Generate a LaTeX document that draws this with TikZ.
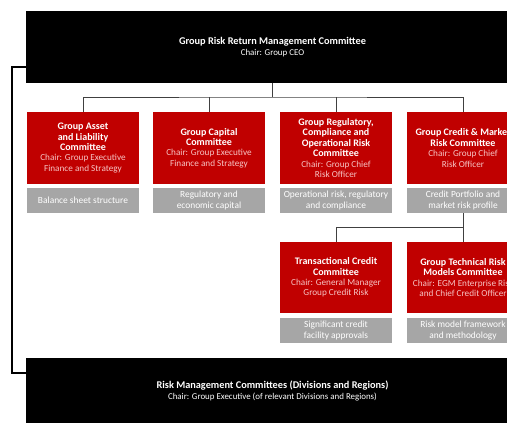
\documentclass[tikz,border=0pt]{standalone}
\usepackage{fontspec}
\setmainfont{Carlito}
\usepackage{tikz}
\definecolor{riskred}{RGB}{192, 0, 0}
\definecolor{riskgrey}{RGB}{166, 166, 166}
\definecolor{chairpink}{RGB}{246, 196, 196}
\definecolor{treeline}{RGB}{64, 64, 64}
\newcommand{\chairline}[1]{{\mdseries\fontsize{9.2}{10.5}\selectfont\color{chairpink}#1}}
\newcommand{\boardtitle}[1]{{\bfseries\fontsize{10.3}{11}\selectfont #1}}

\begin{document}
\begin{tikzpicture}[x=1pt, y=-1pt,
    board/.style={fill=black, text=white, minimum width=493pt, align=center, inner sep=0pt, font=\fontsize{8.9}{11}\selectfont},
    committee/.style={fill=riskred, text=white, minimum width=112pt, align=center, inner sep=0pt, font=\fontsize{10}{10.4}\selectfont\bfseries},
    remit/.style={fill=riskgrey, text=white, minimum width=112pt, minimum height=25pt, align=center, inner sep=0pt, font=\fontsize{9.4}{10.2}\selectfont},
    tree/.style={draw=treeline, line width=0.8pt},
    feedback/.style={draw=black, line width=1.6pt}]
    \useasboundingbox (0,0) rectangle (507,425);
    \clip (0,0) rectangle (507,425);

    % Top and bottom committees
    \node[board, minimum height=72pt] (rrmc) at (272.5,47)
        {\boardtitle{Group Risk Return Management Committee}\\Chair: Group CEO};
    \node[board, minimum height=65pt] (rmc) at (272.5,390.5)
        {\boardtitle{Risk Management Committees (Divisions and Regions)}\\Chair: Group Executive (of relevant Divisions and Regions)};

    % First row of committees
    \node[committee, minimum height=72pt] (gal) at (83,148)
        {Group Asset\\and Liability\\Committee\\\chairline{Chair: Group Executive}\\\chairline{Finance and Strategy}};
    \node[committee, minimum height=72pt] (gcc) at (209,148)
        {Group Capital\\Committee\\\chairline{Chair: Group Executive}\\\chairline{Finance and Strategy}};
    \node[committee, minimum height=72pt] (grcorc) at (336,148)
        {Group Regulatory,\\Compliance and\\Operational Risk\\Committee\\\chairline{Chair: Group Chief}\\\chairline{Risk Officer}};
    \node[committee, minimum height=72pt] (gcmrc) at (463,148)
        {Group Credit \& Market\\Risk Committee\\\chairline{Chair: Group Chief}\\\chairline{Risk Officer}};

    % First row of remits
    \node[remit] (galarea) at (83,200.5) {Balance sheet structure};
    \node[remit] (gccarea) at (209,200.5) {Regulatory and\\economic capital};
    \node[remit] (grcorcarea) at (336,200.5) {Operational risk, regulatory\\and compliance};
    \node[remit] (gcmrcarea) at (463,200.5) {Credit Portfolio and\\market risk profile};

    % Second row of committees
    \node[committee, minimum height=71pt] (tcc) at (336,277.5)
        {Transactional Credit\\Committee\\\chairline{Chair: General Manager}\\\chairline{Group Credit Risk}};
    \node[committee, minimum height=71pt] (gtrmc) at (463,277.5)
        {Group Technical Risk\\Models Committee\\\chairline{Chair: EGM Enterprise Risk}\\\chairline{and Chief Credit Officer}};

    % Second row of remits
    \node[remit] (tccarea) at (336,330.5) {Significant credit\\facility approvals};
    \node[remit] (gtrmcarea) at (463,330.5) {Risk model framework\\and methodology};

    % Reporting lines
    \coordinate (split) at (272.5,97);
    \coordinate (split2) at (463,227);
    \draw[tree] (rrmc.south) -- (split);
    \draw[tree] (gal.north) |- (split) -| (gcmrc.north);
    \draw[tree] (gcc.north) -- (gcc.north |- split);
    \draw[tree] (grcorc.north) -- (grcorc.north |- split);
    \draw[tree] (gcmrcarea.south) -- (gtrmc.north);
    \draw[tree] (tcc.north) |- (split2);

    % Link between top and bottom
    \coordinate (fbtop) at (26,67);
    \coordinate (fbbot) at (26,373);
    \draw[feedback] (fbtop) -| ([xshift=-14pt]fbbot) -- (fbbot);
\end{tikzpicture}
\end{document}
